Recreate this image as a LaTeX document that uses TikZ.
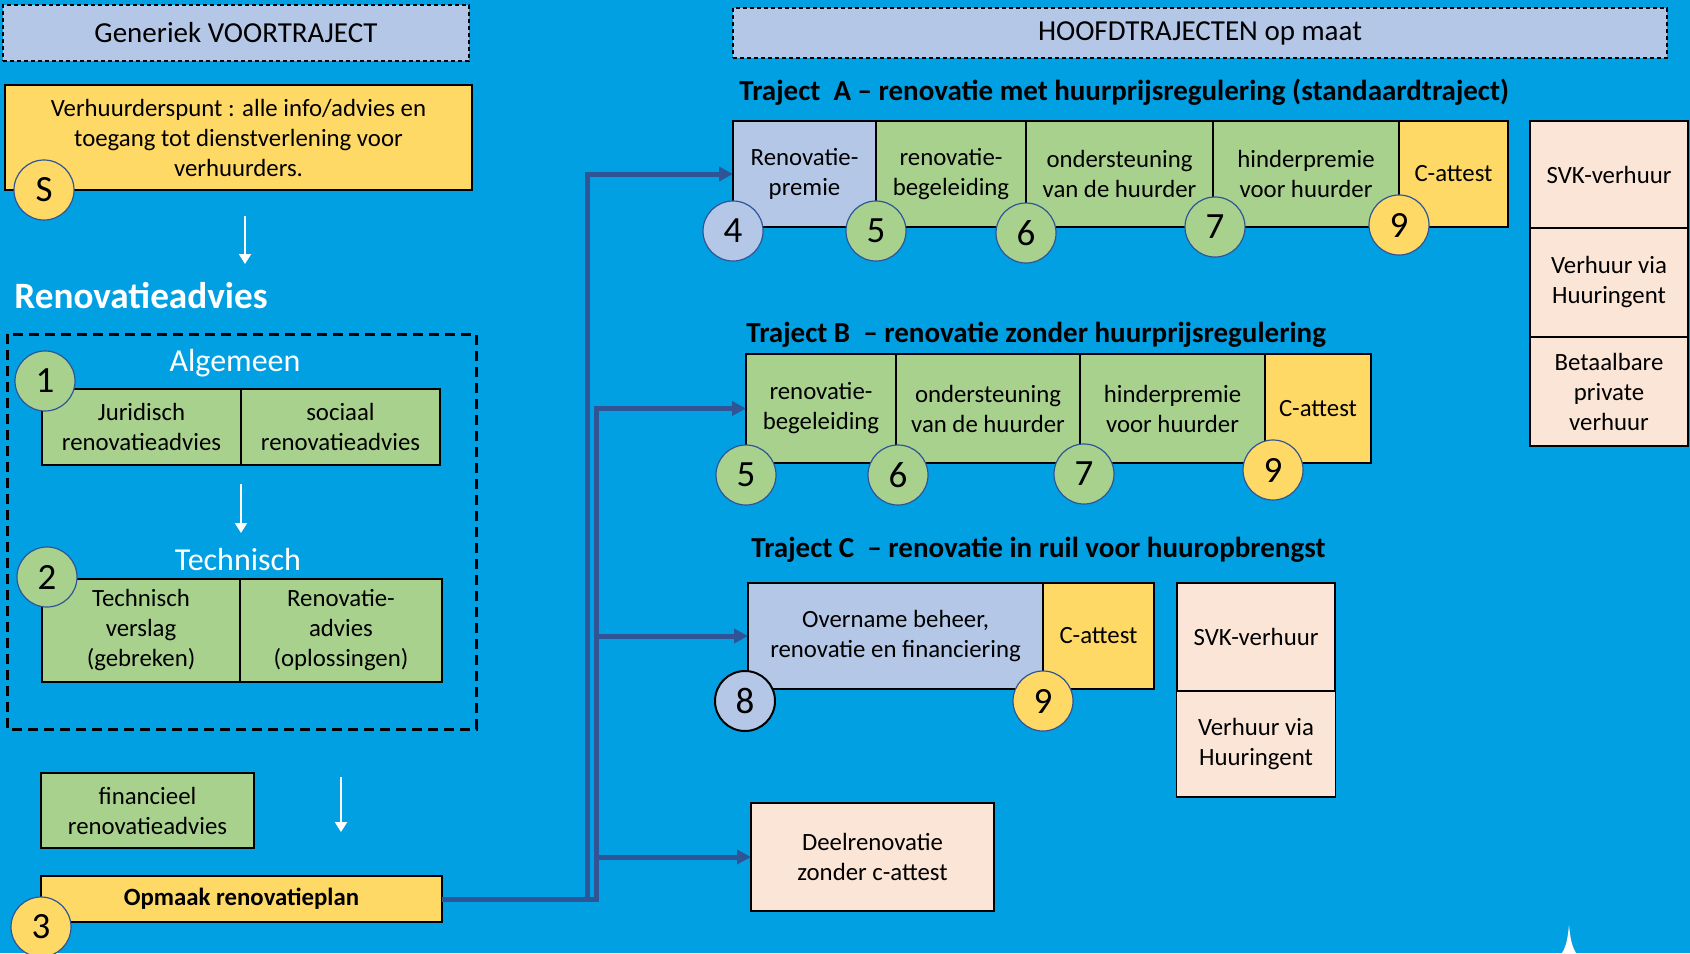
\documentclass[tikz,border=0pt]{standalone}
\usepackage{fontspec}
\setmainfont{Carlito}
\usetikzlibrary{arrows.meta,positioning}
\definecolor{bgblue}{RGB}{0,160,227}
\definecolor{lavender}{RGB}{180,199,231}
\definecolor{leaf}{RGB}{169,209,142}
\definecolor{sun}{RGB}{255,217,102}
\definecolor{peach}{RGB}{251,229,214}
\definecolor{navy}{RGB}{47,85,151}

\begin{document}
\begin{tikzpicture}[x=0.5pt,y=-0.5pt,
  box/.style={draw=black,line width=0.9pt,outer sep=0pt,align=center,inner sep=0pt,font=\fontsize{12.4}{15}\selectfont},
  hdr/.style={box,dashed,dash pattern=on 2pt off 1.5pt,line width=0.75pt,fill=lavender,anchor=north west,font=\fontsize{14.5}{16}\selectfont},
  num/.style={circle,draw=navy,line width=0.6pt,minimum size=30pt,inner sep=0pt,font=\fontsize{18.5}{18}\selectfont},
  conn/.style={navy,line width=2.5pt,-{Triangle[length=7pt,width=7pt]}},
  down/.style={white,line width=1pt,-{Triangle[length=5pt,width=6pt]}},
  title/.style={anchor=west,inner sep=0pt,font=\fontsize{14.5}{16}\selectfont\bfseries},
  wtext/.style={text=white,inner sep=0pt,font=\fontsize{16}{18}\selectfont}]
  \fill[bgblue] (0,0) rectangle (1690,953);
  \useasboundingbox (0,0) rectangle (1690,953);

  % voortraject
  \node[hdr,minimum width=233pt,minimum height=28pt] (hdrL) at (3,5) {Generiek VOORTRAJECT};
  \node[box,fill=sun,minimum width=233.5pt,minimum height=52.5pt,anchor=north west] (punt) at (5,85)
    {Verhuurderspunt : alle info/advies en\\toegang tot dienstverlening voor\\verhuurders.};
  \node[num,fill=sun] (nS) at (44,190) {S};
  \coordinate (a1) at (245,216); \coordinate (a1e) at (245,264);
  \draw[down] (a1) -- (a1e);
  \node[wtext,anchor=west,font=\fontsize{18.6}{20}\selectfont\bfseries] (radv) at (14,296) {Renovatieadvies};

  \draw[black,line width=1.5pt,dash pattern=on 5pt off 3pt] (7,334) rectangle (476,729);
  \node[wtext] (alg) at (235,363) {Algemeen};
  \node[box,fill=leaf,minimum width=99.5pt,minimum height=38pt,anchor=north west] (jur) at (42,389) {Juridisch\\renovatieadvies};
  \node[box,fill=leaf,minimum width=99.5pt,minimum height=38pt,right=0pt of jur] (soc) {sociaal\\renovatieadvies};
  \node[num,fill=leaf] (n1) at (45,381) {1};
  \coordinate (a2) at (241,484); \coordinate (a2e) at (241,533);
  \draw[down] (a2) -- (a2e);
  \node[wtext] (tech) at (238,559) {Technisch};
  \node[box,fill=leaf,minimum width=99pt,minimum height=51.5pt,anchor=north west] (verslag) at (42,579) {Technisch\\verslag\\(gebreken)};
  \node[box,fill=leaf,minimum width=101pt,minimum height=51.5pt,right=0pt of verslag] (opl) {Renovatie-\\advies\\(oplossingen)};
  \node[num,fill=leaf] (n2) at (47,577) {2};

  \node[box,fill=leaf,minimum width=106.5pt,minimum height=37.5pt,anchor=north west] (fin) at (41,773) {financieel\\renovatieadvies};
  \coordinate (a3) at (341,777); \coordinate (a3e) at (341,832);
  \draw[down] (a3) -- (a3e);
  \node[box,fill=sun,minimum width=200.5pt,minimum height=23pt,anchor=north west,font=\fontsize{12.4}{15}\selectfont\bfseries] (plan) at (41,876) {Opmaak renovatieplan};
  \node[num,fill=sun] (n3) at (41,927) {3};

  % hoofdtrajecten
  \node[hdr,minimum width=467pt,minimum height=25pt] (hdrR) at (733,8) {HOOFDTRAJECTEN op maat};

  \node[title] (tA) at (739,92) {Traject\ \ A -- renovatie met huurprijsregulering (standaardtraject)};
  \node[box,fill=lavender,minimum width=71.5pt,minimum height=53pt,anchor=north west] (premie) at (733,121) {Renovatie-\\premie};
  \node[box,fill=leaf,minimum width=75pt,minimum height=53pt,right=0pt of premie] (begA) {renovatie-\\begeleiding};
  \node[box,fill=leaf,minimum width=93.5pt,minimum height=53pt,right=0pt of begA] (ondA) {ondersteuning\\van de huurder};
  \node[box,fill=leaf,minimum width=93pt,minimum height=53pt,right=0pt of ondA] (hindA) {hinderpremie\\voor huurder};
  \node[box,fill=sun,minimum width=54.5pt,minimum height=53pt,right=0pt of hindA] (cA) {C-attest};
  \node[num,fill=lavender] (n4) at ([yshift=-2pt]premie.south west) {4};
  \node[num,fill=leaf] (n5a) at ([yshift=-2pt]begA.south west) {5};
  \node[num,fill=leaf] (n6a) at ([yshift=-3pt]ondA.south west) {6};
  \node[num,fill=leaf] (n7a) at ([xshift=1pt]hindA.south west) {7};
  \node[num,fill=sun] (n9a) at ([yshift=1pt]cA.south west) {9};

  \node[box,fill=peach,minimum width=79pt,minimum height=53.5pt,anchor=north west] (svkA) at (1530,121) {SVK-verhuur};
  \node[box,fill=peach,minimum width=79pt,minimum height=54.5pt,below=0pt of svkA] (hgA) {Verhuur via\\Huuringent};
  \node[box,fill=peach,minimum width=79pt,minimum height=54.5pt,below=0pt of hgA] (betA) {Betaalbare\\private\\verhuur};

  \node[title] (tB) at (746,335) {Traject B\ \ -- renovatie zonder huurprijsregulering};
  \node[box,fill=leaf,minimum width=75pt,minimum height=54.5pt,anchor=north west] (begB) at (746,354) {renovatie-\\begeleiding};
  \node[box,fill=leaf,minimum width=92pt,minimum height=54.5pt,right=0pt of begB] (ondB) {ondersteuning\\van de huurder};
  \node[box,fill=leaf,minimum width=92.5pt,minimum height=54.5pt,right=0pt of ondB] (hindB) {hinderpremie\\voor huurder};
  \node[box,fill=sun,minimum width=53pt,minimum height=54.5pt,right=0pt of hindB] (cB) {C-attest};
  \node[num,fill=leaf] (n5b) at ([yshift=-6pt]begB.south west) {5};
  \node[num,fill=leaf] (n6b) at ([xshift=1pt,yshift=-6pt]ondB.south west) {6};
  \node[num,fill=leaf] (n7b) at ([xshift=2pt,yshift=-5.5pt]hindB.south west) {7};
  \node[num,fill=sun] (n9b) at ([xshift=4pt,yshift=-3.5pt]cB.south west) {9};

  \node[title] (tC) at (751,550) {Traject C\ \ -- renovatie in ruil voor huuropbrengst};
  \node[box,fill=lavender,minimum width=147.5pt,minimum height=53pt,anchor=north west] (overname) at (748,583) {Overname beheer,\\renovatie en financiering};
  \node[box,fill=sun,minimum width=55.5pt,minimum height=53pt,right=0pt of overname] (cC) {C-attest};
  \node[num,fill=lavender,draw=black,line width=1pt] (n8) at ([xshift=-1.5pt,yshift=-6pt]overname.south west) {8};
  \node[num,fill=sun] (n9c) at ([yshift=-6pt]cC.south west) {9};
  \node[box,fill=peach,minimum width=79pt,minimum height=54pt,anchor=north west] (svkC) at (1177,583) {SVK-verhuur};
  \node[box,fill=peach,minimum width=79.5pt,minimum height=53pt,below=0pt of svkC] (hgC) {Verhuur via\\Huuringent};

  \node[box,fill=peach,minimum width=121.5pt,minimum height=54pt,anchor=north west] (deel) at (751,803) {Deelrenovatie\\zonder c-attest};

  % verbindingen
  \draw[conn] (plan.east) -- ++(145,0) |- (premie.west);
  \draw[conn] (plan.east) -- ++(154,0) |- (begB.west);
  \draw[conn] (plan.east) -- ++(154,0) |- (overname.west);
  \draw[conn] (plan.east) -- ++(154,0) |- (deel.west);

  \fill[white] (1562,953) .. controls (1567,945) and (1568,935) .. (1569,925)
    .. controls (1570,935) and (1571,945) .. (1576,953) -- cycle;
\end{tikzpicture}
\end{document}
